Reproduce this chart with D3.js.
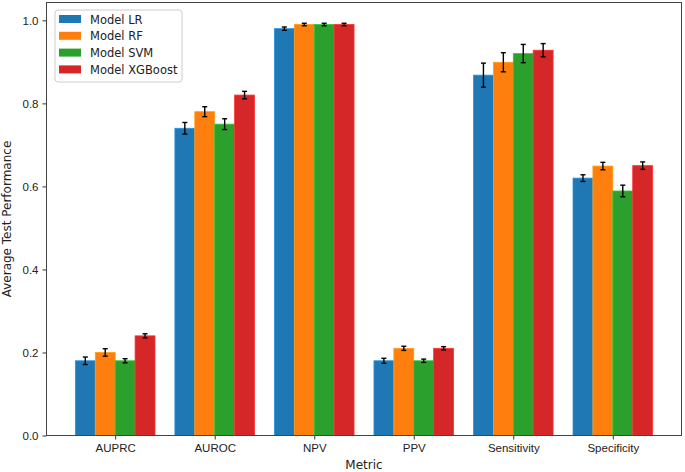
<!DOCTYPE html>
<html>
<head>
<meta charset="utf-8">
<script src="https://cdn.jsdelivr.net/npm/d3@7"></script>
<style>
  body { margin: 0; background: #fff; }
  svg { font-family: "DejaVu Sans", sans-serif; }
</style>
</head>
<body>
<div id="chart"></div>
<script>
// chart data
const metrics = ['AUPRC', 'AUROC', 'NPV', 'PPV', 'Sensitivity', 'Specificity'];
const models = ['Model LR', 'Model RF', 'Model SVM', 'Model XGBoost'];
const colors = ['#1f77b4', '#ff7f0e', '#2ca02c', '#d62728'];

const lrMean  = [0.18, 0.74, 0.98, 0.18, 0.868, 0.62];
const lrErr   = [0.009, 0.014, 0.004, 0.006, 0.029, 0.008];
const rfMean  = [0.20, 0.78, 0.99, 0.21, 0.899, 0.649];
const rfErr   = [0.009, 0.012, 0.003, 0.005, 0.023, 0.009];
const svmMean = [0.18, 0.75, 0.99, 0.18, 0.92, 0.589];
const svmErr  = [0.005, 0.013, 0.003, 0.004, 0.022, 0.014];
const xgbMean = [0.24, 0.82, 0.99, 0.21, 0.928, 0.65];
const xgbErr  = [0.005, 0.009, 0.003, 0.004, 0.016, 0.009];

const yTicks = [0.0, 0.2, 0.4, 0.6, 0.8, 1.0];

const means = [lrMean, rfMean, svmMean, xgbMean];
const errs = [lrErr, rfErr, svmErr, xgbErr];

const W = 685, H = 472;
const margin = { top: 2.5, right: 3.5, bottom: 36.5, left: 46.5 };
const width = W - margin.left - margin.right;
const height = H - margin.top - margin.bottom;

const svg = d3.select('#chart').append('svg')
  .attr('width', W)
  .attr('height', H);

const g = svg.append('g')
  .attr('transform', `translate(${margin.left},${margin.top})`);

// numeric x like matplotlib: categories at 0..5, bar width 0.2
const barW = 0.2;
const x = d3.scaleLinear().domain([-0.69, metrics.length - 1 + 0.69]).range([0, width]);
const y = d3.scaleLinear().domain([0, 1.043]).range([height, 0]);

// bars
models.forEach((m, k) => {
  const off = (k - 1.5) * barW;
  const rows = metrics.map((name, i) => ({ i, v: means[k][i], e: errs[k][i] }));
  const grp = g.append('g');

  grp.selectAll('rect')
    .data(rows)
    .enter().append('rect')
    .attr('x', d => x(d.i + off - barW / 2))
    .attr('width', x(barW) - x(0))
    .attr('y', d => y(d.v))
    .attr('height', d => y(0) - y(d.v))
    .attr('fill', colors[k])
    .attr('stroke', d3.color(colors[k]).brighter(0.6))
    .attr('stroke-width', 0.8);

  // error bars
  const eb = grp.selectAll('g.err')
    .data(rows)
    .enter().append('g')
    .attr('class', 'err')
    .attr('stroke', '#000')
    .attr('stroke-width', 1.4);

  eb.append('line')
    .attr('x1', d => x(d.i + off)).attr('x2', d => x(d.i + off))
    .attr('y1', d => y(d.v - d.e)).attr('y2', d => y(d.v + d.e));
  eb.append('line')
    .attr('x1', d => x(d.i + off) - 2.5).attr('x2', d => x(d.i + off) + 2.5)
    .attr('y1', d => y(d.v - d.e)).attr('y2', d => y(d.v - d.e));
  eb.append('line')
    .attr('x1', d => x(d.i + off) - 2.5).attr('x2', d => x(d.i + off) + 2.5)
    .attr('y1', d => y(d.v + d.e)).attr('y2', d => y(d.v + d.e));
});

// axes
const xAxis = g.append('g')
  .attr('transform', `translate(0,${height})`)
  .call(d3.axisBottom(x)
    .tickValues(d3.range(metrics.length))
    .tickFormat(i => metrics[i])
    .tickSize(4).tickPadding(4));

const yAxis = g.append('g')
  .call(d3.axisLeft(y)
    .tickValues(yTicks)
    .tickFormat(d3.format('.1f'))
    .tickSize(4).tickPadding(4));

[xAxis, yAxis].forEach(a => {
  a.select('.domain').remove();
  a.selectAll('.tick line').attr('stroke', '#333');
  a.selectAll('.tick text').attr('fill', '#222').style('font-size', '11.5px');
});

// frame
g.append('rect')
  .attr('x', 0).attr('y', 0)
  .attr('width', width).attr('height', height)
  .attr('fill', 'none')
  .attr('stroke', '#444')
  .attr('stroke-width', 1);

// axis labels
svg.append('text')
  .attr('x', margin.left + width / 2)
  .attr('y', H - 3)
  .attr('text-anchor', 'middle')
  .style('font-size', '12px')
  .attr('fill', '#222')
  .text('Metric');

svg.append('text')
  .attr('transform', `translate(11,${margin.top + height / 2}) rotate(-90)`)
  .attr('text-anchor', 'middle')
  .style('font-size', '12px')
  .attr('fill', '#222')
  .text('Average Test Performance');

// legend
const lg = svg.append('g').attr('transform', 'translate(55,10)');
lg.append('rect')
  .attr('width', 127).attr('height', 72)
  .attr('rx', 3)
  .attr('fill', '#fff').attr('fill-opacity', 0.8)
  .attr('stroke', '#ccc');

const item = lg.selectAll('g.item')
  .data(models)
  .enter().append('g')
  .attr('class', 'item')
  .attr('transform', (d, i) => `translate(4,${5 + i * 16.8})`);

item.append('rect')
  .attr('width', 22).attr('height', 8)
  .attr('fill', (d, i) => colors[i]);

item.append('text')
  .attr('x', 31).attr('y', 8.5)
  .style('font-size', '11.5px')
  .attr('fill', '#222')
  .text(d => d);
</script>
</body>
</html>
